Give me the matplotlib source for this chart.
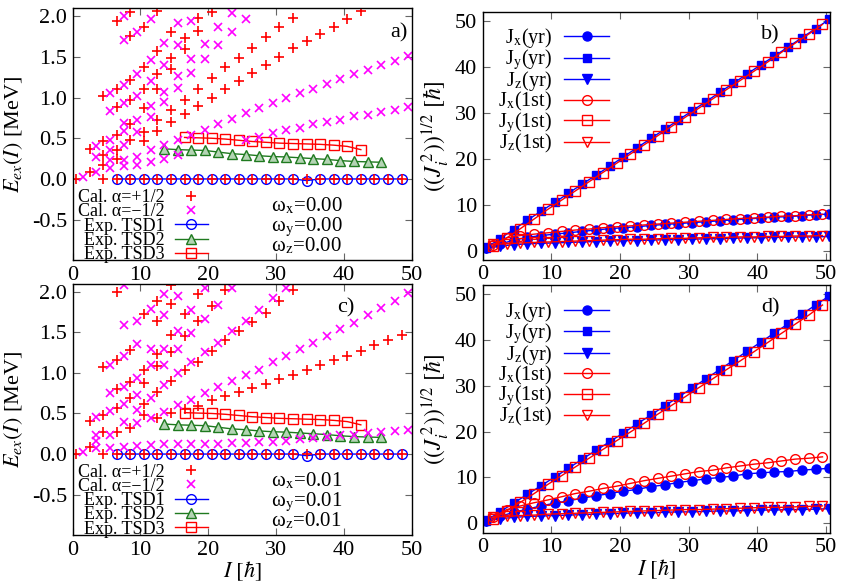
import numpy as np
import matplotlib
matplotlib.use('Agg')
import matplotlib.pyplot as plt
from matplotlib.ticker import FormatStrFormatter, MultipleLocator

plt.rcParams['font.family'] = ['Liberation Serif', 'DejaVu Serif']
plt.rcParams['mathtext.fontset'] = 'stix'
plt.rcParams['font.size'] = 14

# ------------------------- calculated levels --------------------------------
spin_plus = [0.5, 2.5, 4.5, 6.5, 8.5, 10.5, 12.5, 14.5, 16.5, 18.5, 20.5, 22.5, 24.5,
             26.5, 28.5, 30.5, 32.5, 34.5, 36.5, 38.5, 40.5, 42.5, 44.5, 46.5, 48.5]
spin_minus = [1.5, 3.5, 5.5, 7.5, 9.5, 11.5, 13.5, 15.5, 17.5, 19.5, 21.5, 23.5, 25.5,
              27.5, 29.5, 31.5, 33.5, 35.5, 37.5, 39.5, 41.5, 43.5, 45.5, 47.5, 49.5]

# panel a (omega = 0.00), one list of energies per spin
a_plus = [[0.0], [0.08, 0.37], [0.0, 0.17, 0.30, 0.46, 1.02],
          [0.0, 0.25, 0.36, 0.54, 0.88, 1.10, 1.94],
          [0.0, 0.48, 0.68, 0.97, 1.22, 1.76, 2.05],
          [0.0, 0.47, 0.58, 0.87, 1.10, 1.38, 1.87],
          [0.0, 0.59, 0.72, 1.11, 1.29, 1.57, 2.06],
          [0.0, 0.70, 0.85, 1.35, 1.49, 1.81],
          [0.0, 0.80, 0.97, 1.59, 1.73], [0.0, 0.90, 1.10, 1.82, 1.98],
          [0.0, 1.00, 1.24, 2.05], [0.0, 1.10, 1.37], [0.0, 1.20, 1.49],
          [0.0, 1.30, 1.61], [0.0, 1.40, 1.74], [0.0, 1.50, 1.86], [0.0, 1.61, 1.98],
          [0.0, 1.69], [0.0, 1.78], [0.0, 1.87], [0.0, 1.97], [0.0, 2.06],
          [0.0], [0.0], [0.0]]
a_minus = [[0.02], [0.08, 0.27, 0.40], [0.13, 0.23, 0.36, 0.48, 0.83, 1.05],
           [0.16, 0.23, 0.42, 0.59, 0.69, 0.93, 1.15, 1.71, 2.0],
           [0.17, 0.27, 0.58, 0.72, 1.02, 1.29, 1.81],
           [0.21, 0.35, 0.76, 0.89, 1.20, 1.46, 1.96],
           [0.25, 0.42, 0.95, 1.07, 1.40, 1.67],
           [0.30, 0.48, 1.12, 1.27, 1.65, 1.91],
           [0.54, 1.30, 1.47, 1.94], [0.60, 1.47, 1.66], [0.67, 1.64, 1.86],
           [0.74, 1.80, 2.04], [0.48, 0.81, 1.96], [0.52, 0.87], [0.56, 0.93],
           [0.60, 0.99], [0.63, 1.05], [0.67, 1.11], [0.70, 1.17], [0.73, 1.23],
           [0.77, 1.29], [0.79, 1.34], [0.82, 1.40], [0.85, 1.45], [0.88, 1.51]]

# panel c (omega = 0.01)
c_plus = [[0.0], [0.09, 0.41], [0.0, 0.27, 0.48, 1.07],
          [0.0, 0.27, 0.57, 0.80, 1.16, 2.0],
          [0.0, 0.32, 0.69, 0.89, 1.28],
          [0.0, 0.48, 0.62, 0.88, 1.03, 1.72],
          [0.0, 0.44, 0.76, 1.08, 1.23, 1.64, 1.88],
          [0.0, 0.50, 0.90, 1.26, 1.47, 1.85, 2.08],
          [0.0, 0.55, 1.03, 1.45, 1.72], [0.0, 0.59, 1.14, 1.64, 1.97],
          [0.0, 0.66, 1.27, 1.82], [0.0, 0.71, 1.40, 2.02], [0.0, 0.76, 1.52],
          [0.0, 0.81, 1.63], [0.0, 0.86, 1.74], [0.0, 0.92, 1.89], [0.0, 0.97, 2.02],
          [0.0, 1.04], [0.0, 1.10], [0.0, 1.16], [0.0, 1.21], [0.0, 1.27],
          [0.0, 1.34], [0.0, 1.40], [0.0, 1.47]]
c_minus = [[0.02], [0.08, 0.16, 0.23, 0.46], [0.07, 0.24, 0.53, 0.75, 1.10],
           [0.09, 0.39, 0.62, 0.83, 1.21, 1.59, 2.08],
           [0.10, 0.38, 0.54, 0.73, 0.94, 1.35, 1.64],
           [0.11, 0.44, 0.69, 1.10, 1.29, 1.79],
           [0.12, 0.52, 0.85, 1.10, 1.29, 1.71, 1.97],
           [0.12, 0.60, 1.00, 1.30, 1.52, 1.95],
           [0.13, 0.67, 1.13, 1.49, 1.77], [0.13, 0.75, 1.26, 1.66, 2.05],
           [0.13, 0.82, 1.37, 1.84], [0.14, 0.90, 1.51, 2.05], [0.14, 0.97, 1.64],
           [0.15, 1.04, 1.78], [0.15, 1.13, 1.92], [0.16, 1.21, 2.05],
           [0.18, 1.29], [0.20, 1.37], [0.21, 1.45], [0.23, 1.54], [0.24, 1.62],
           [0.26, 1.71], [0.27, 1.80], [0.29, 1.89], [0.30, 1.99]]

# ------------------------- experimental bands --------------------------------
tsd1_I = [6.5, 8.5, 10.5, 12.5, 14.5, 16.5, 18.5, 20.5, 22.5, 24.5, 26.5,
          28.5, 30.5, 32.5, 34.5, 36.5, 38.5, 40.5, 42.5, 44.5, 46.5, 48.5]
tsd1_E = [0.0, 0.0, 0.0, 0.0, 0.0, 0.0, 0.0, 0.0, 0.0, 0.0, 0.0,
          0.0, 0.0, 0.0, -0.02, 0.0, 0.0, 0.0, 0.0, 0.0, 0.0, 0.0]
tsd2_I = [13.5, 15.5, 17.5, 19.5, 21.5, 23.5, 25.5, 27.5, 29.5, 31.5, 33.5,
          35.5, 37.5, 39.5, 41.5, 43.5, 45.5]
tsd2_E = [0.37, 0.36, 0.355, 0.35, 0.33, 0.31, 0.30, 0.285, 0.275, 0.27, 0.26,
          0.25, 0.24, 0.225, 0.215, 0.21, 0.205]
tsd3_I = [16.5, 18.5, 20.5, 22.5, 24.5, 26.5, 28.5, 30.5, 32.5, 34.5, 36.5,
          38.5, 40.5, 42.5]
tsd3_E = [0.51, 0.505, 0.50, 0.49, 0.475, 0.46, 0.45, 0.44, 0.435, 0.43, 0.425,
          0.415, 0.40, 0.36]

# ------------------------- angular momentum components ----------------------
yr_I = [0.5, 2.5, 4.5, 6.5, 8.5, 10.5, 12.5, 14.5, 16.5, 18.5, 20.5, 22.5, 24.5,
        26.5, 28.5, 30.5, 32.5, 34.5, 36.5, 38.5, 40.5, 42.5, 44.5, 46.5, 48.5, 50.5]
st_I = spin_minus

b_jx_yr = [0.6, 1.4, 2.3, 2.9, 3.3, 3.6, 3.9, 4.2, 4.5, 4.8, 5.0, 5.2, 5.5,
           5.7, 5.9, 6.1, 6.3, 6.5, 6.7, 6.9, 7.1, 7.3, 7.4, 7.6, 7.8, 8.0]
b_jy_yr = [0.6, 2.6, 4.6, 6.6, 8.6, 10.5, 12.5, 14.5, 16.4, 18.4, 20.4, 22.4, 24.4,
           26.4, 28.4, 30.4, 32.4, 34.4, 36.4, 38.4, 40.4, 42.3, 44.3, 46.3, 48.3, 50.3]
b_jz_yr = [0.5, 1.0, 1.3, 1.5, 1.6, 1.7, 1.8, 1.9, 2.0, 2.1, 2.2, 2.2, 2.3,
           2.4, 2.4, 2.5, 2.6, 2.6, 2.7, 2.8, 2.8, 2.9, 2.9, 3.0, 3.0, 3.1]
b_jx_st = [1.3, 2.8, 3.3, 3.6, 3.9, 4.2, 4.5, 4.7, 5.0, 5.2, 5.4, 5.6, 5.8,
           6.0, 6.2, 6.4, 6.6, 6.8, 7.0, 7.1, 7.3, 7.5, 7.6, 7.8, 7.9]
b_jy_st = [1.0, 2.8, 4.8, 6.9, 9.0, 11.0, 13.0, 15.0, 17.0, 19.0, 21.0, 23.0, 25.0,
           27.0, 29.0, 31.0, 33.0, 35.0, 37.0, 39.0, 41.0, 43.1, 45.1, 47.1, 49.2]
b_jz_st = [1.4, 1.5, 1.7, 1.8, 1.9, 2.0, 2.1, 2.2, 2.3, 2.4, 2.5, 2.5, 2.6,
           2.7, 2.7, 2.8, 2.9, 2.9, 3.0, 3.0, 3.1, 3.1, 3.2, 3.2, 3.3]

d_jx_yr = [0.6, 1.5, 2.4, 3.1, 3.8, 4.4, 4.9, 5.5, 6.0, 6.5, 7.0, 7.4, 8.0,
           8.4, 8.9, 9.3, 9.7, 10.0, 10.3, 10.8, 11.0, 11.2, 11.3, 11.6, 11.8, 12.0]
d_jy_yr = [0.6, 2.5, 4.4, 6.3, 8.2, 10.1, 12.0, 14.0, 15.9, 17.8, 19.7, 21.7, 23.6,
           25.6, 27.5, 29.5, 31.5, 33.5, 35.5, 37.5, 39.5, 41.5, 43.5, 45.6, 47.6, 49.6]
d_jz_yr = [0.5, 1.0, 1.3, 1.5, 1.6, 1.7, 1.8, 1.9, 2.0, 2.1, 2.2, 2.3, 2.3,
           2.4, 2.5, 2.5, 2.6, 2.7, 2.7, 2.8, 2.9, 2.9, 3.0, 3.0, 3.1, 3.2]
d_jx_st = [1.3, 3.0, 3.8, 4.5, 5.1, 5.8, 6.5, 7.0, 7.6, 8.1, 8.7, 9.3, 9.8,
           10.3, 10.8, 11.3, 11.6, 12.1, 12.5, 12.9, 13.2, 13.6, 14.0, 14.2, 14.5]
d_jy_st = [0.9, 2.7, 4.6, 6.5, 8.5, 10.4, 12.3, 14.2, 16.1, 18.0, 19.9, 21.8, 23.8,
           25.7, 27.6, 29.6, 31.5, 33.5, 35.4, 37.4, 39.4, 41.4, 43.4, 45.4, 47.6]
d_jz_st = [1.4, 1.5, 1.7, 1.8, 2.0, 2.1, 2.2, 2.3, 2.4, 2.5, 2.6, 2.7, 2.8,
           2.9, 3.0, 3.0, 3.1, 3.2, 3.3, 3.4, 3.5, 3.5, 3.6, 3.7, 3.8]

RED = '#ff0000'
MAG = '#ff00ff'
BLUE = '#0000ff'
GREEN = '#1f7a1f'
TICK_FS = 16


def style_axes(ax):
    ax.tick_params(direction='in', top=True, right=True, length=5,
                   color='#666666', labelsize=TICK_FS, pad=4)
    ax.xaxis.set_major_locator(MultipleLocator(10))
    for sp in ax.spines.values():
        sp.set_linewidth(1.0)


def flatten(spins, cols):
    xs = [s for s, col in zip(spins, cols) for _ in col]
    ys = [e for col in cols for e in col]
    return xs, ys


def energy_panel(ax, plus_cols, minus_cols, omega, tag, tag_x, leg_top):
    h1, = ax.plot(tsd1_I, tsd1_E, '-o', color=BLUE, mfc='none', ms=7, mew=1.0, lw=1.0)
    h2, = ax.plot(tsd2_I, tsd2_E, '-^', color=GREEN, mfc='#b4d4b4', ms=7, mew=1.0, lw=1.0)
    h3, = ax.plot(tsd3_I, tsd3_E, '-s', color=RED, mfc='none', ms=6.5, mew=1.0, lw=1.0)
    px, py = flatten(spin_plus, plus_cols)
    mx, my = flatten(spin_minus, minus_cols)
    hp, = ax.plot(px, py, '+', color=RED, ms=7, mew=1.2, ls='none')
    hm, = ax.plot(mx, my, 'x', color=MAG, ms=6, mew=1.2, ls='none')
    ax.set_xlim(0, 50)
    ax.set_ylim(-1.0, 2.1)
    ax.set_yticks([-0.5, 0.0, 0.5, 1.0, 1.5, 2.0])
    ax.yaxis.set_major_formatter(FormatStrFormatter('%.1f'))
    ax.set_ylabel(r'$E_{ex}(I)$ [MeV]', fontsize=16, labelpad=5)
    style_axes(ax)
    ax.legend([hp, hm, h1, h2, h3],
              ['Cal. α=+1/2', 'Cal. α=−1/2', 'Exp. TSD1', 'Exp. TSD2', 'Exp. TSD3'],
              loc='upper left', bbox_to_anchor=(0.015, leg_top), frameon=False,
              markerfirst=False, fontsize=13, handlelength=1.8, handletextpad=0.6,
              labelspacing=-0.15, borderpad=0, borderaxespad=0)
    for c, yv in zip(['x', 'y', 'z'], [-0.30, -0.545, -0.79]):
        ax.text(29.3, yv, r'ω$_\mathrm{%s}$=%s' % (c, omega), fontsize=15,
                va='center_baseline')
    ax.text(tag_x, 1.80, tag, fontsize=16, ha='right', va='center')


def spin_panel(ax, jx_yr, jy_yr, jz_yr, jx_st, jy_st, jz_st, tag, leg_top):
    h = []
    h += ax.plot(yr_I, jx_yr, '-o', color=BLUE, ms=6.5, lw=1.0)
    h += ax.plot(yr_I, jy_yr, '-s', color=BLUE, ms=6, lw=1.0)
    h += ax.plot(yr_I, jz_yr, '-v', color=BLUE, ms=6.5, lw=1.0)
    h += ax.plot(st_I, jx_st, '-o', color=RED, mfc='none', ms=7, mew=1.0, lw=1.0)
    h += ax.plot(st_I, jy_st, '-s', color=RED, mfc='none', ms=6.5, mew=1.0, lw=1.0)
    h += ax.plot(st_I, jz_st, '-v', color=RED, mfc='none', ms=7, mew=1.0, lw=1.0)
    ax.set_xlim(0, 50.6)
    ax.set_ylim(-2, 52)
    ax.yaxis.set_major_locator(MultipleLocator(10))
    ax.set_ylabel(r'$((J_i^{\,2}))^{1/2}\ [\hbar]$', fontsize=17, labelpad=2)
    style_axes(ax)
    labels = [r'J$_\mathrm{x}$(yr)', r'J$_\mathrm{y}$(yr)', r'J$_\mathrm{z}$(yr)',
              r'J$_\mathrm{x}$(1st)', r'J$_\mathrm{y}$(1st)', r'J$_\mathrm{z}$(1st)']
    ax.legend(h, labels, loc='upper left', bbox_to_anchor=(0.045, leg_top),
              frameon=False, markerfirst=False, fontsize=14.5, handlelength=2.2,
              handletextpad=0.6, labelspacing=-0.15, borderpad=0, borderaxespad=0)
    ax.text(43.3, 46.9, tag, fontsize=16, ha='right', va='center')


fig = plt.figure(figsize=(8.45, 5.85), dpi=100)
ax_a = fig.add_axes([0.0860, 0.5549, 0.4012, 0.4315])
ax_b = fig.add_axes([0.5712, 0.5557, 0.4111, 0.4246])
ax_c = fig.add_axes([0.0860, 0.0851, 0.4012, 0.4301])
ax_d = fig.add_axes([0.5712, 0.0897, 0.4111, 0.4234])

energy_panel(ax_a, a_plus, a_minus, '0.00', 'a)', 49.45, 0.282)
energy_panel(ax_c, c_plus, c_minus, '0.01', 'c)', 41.6, 0.285)
spin_panel(ax_b, b_jx_yr, b_jy_yr, b_jz_yr, b_jx_st, b_jy_st, b_jz_st, 'b)', 0.94)
spin_panel(ax_d, d_jx_yr, d_jy_yr, d_jz_yr, d_jx_st, d_jy_st, d_jz_st, 'd)', 0.94)

ax_c.set_xlabel(r'$I\ [\hbar]$', fontsize=16, labelpad=0)
ax_d.set_xlabel(r'$I\ [\hbar]$', fontsize=16, labelpad=0)

fig.savefig('out.png', dpi=100)
